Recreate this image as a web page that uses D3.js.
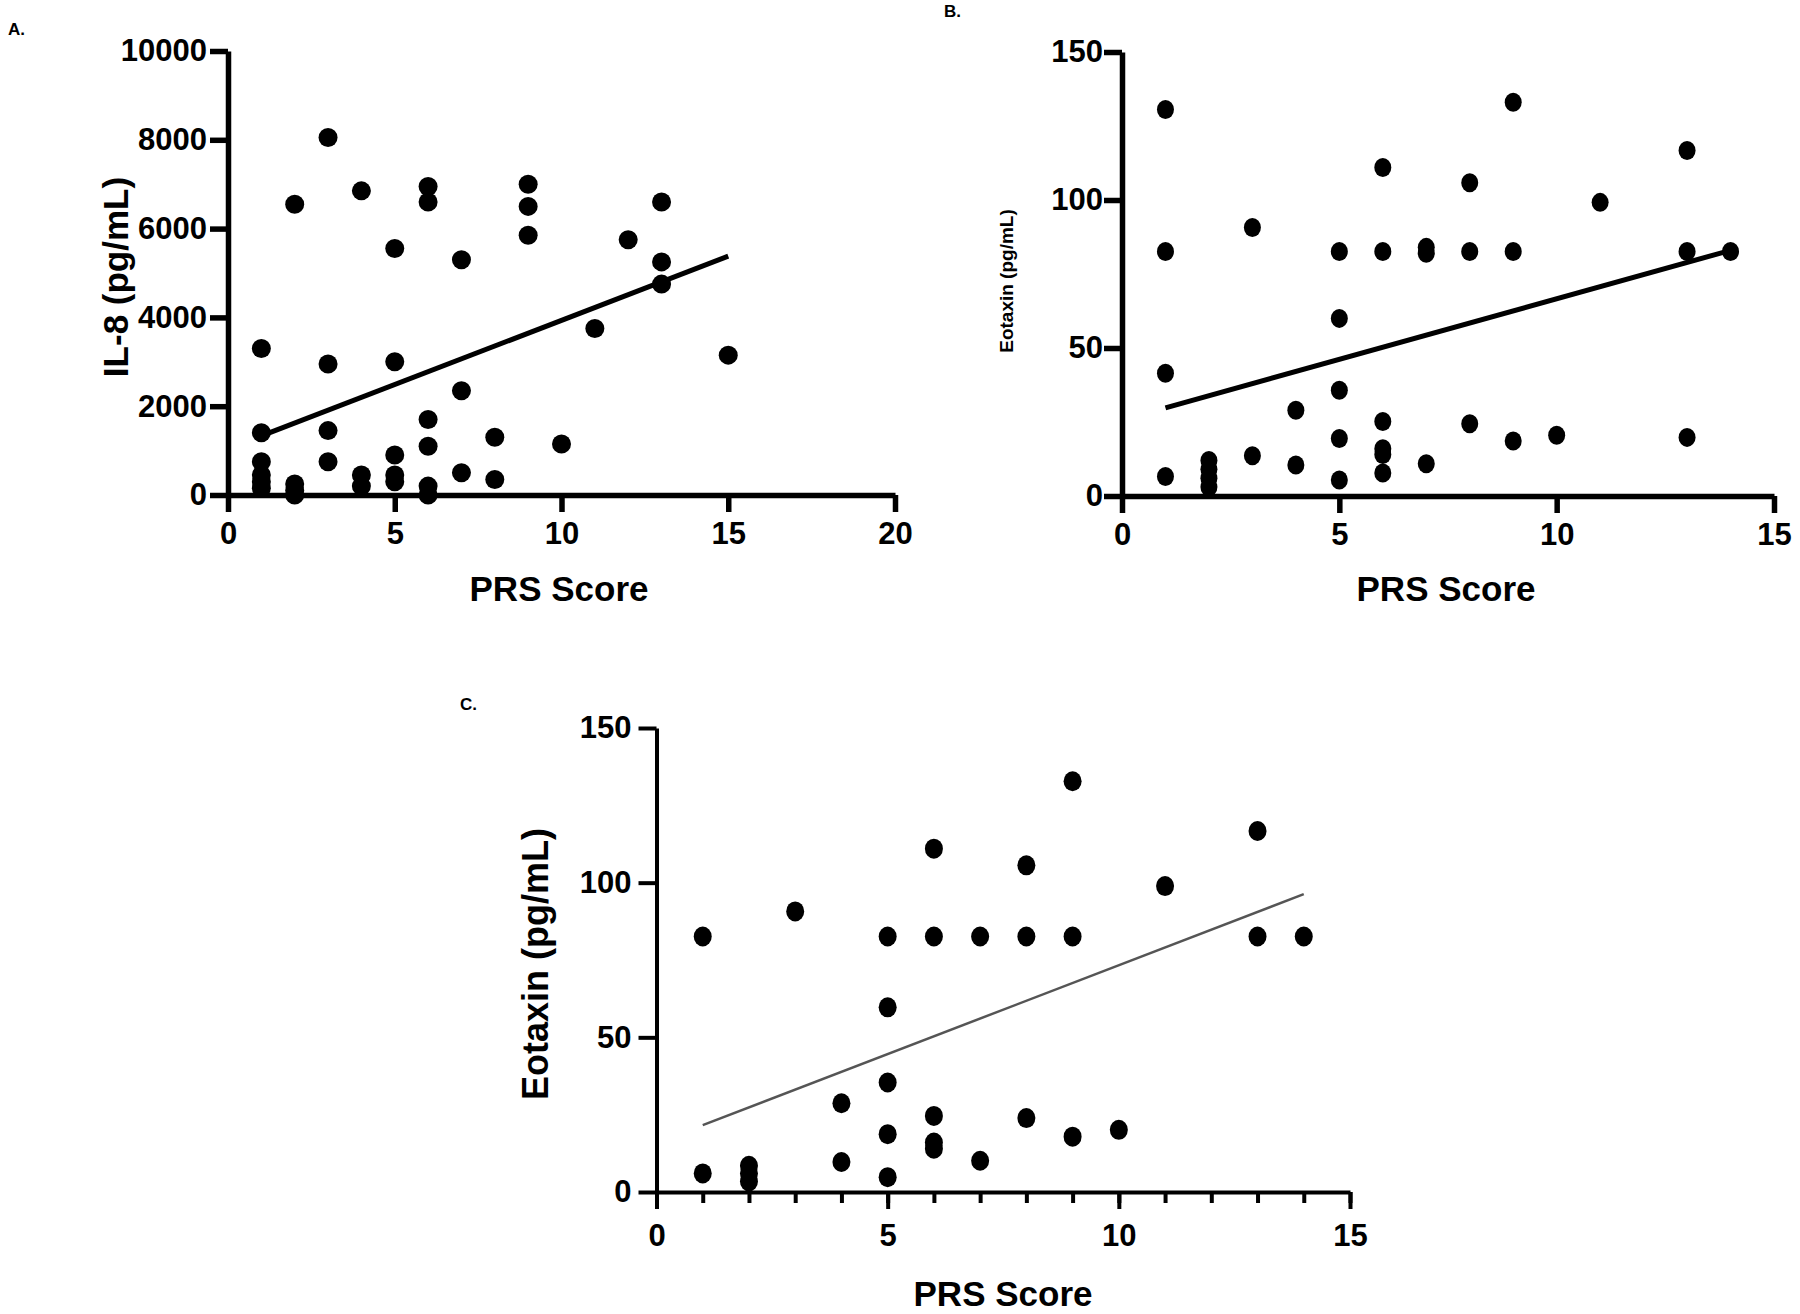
<!DOCTYPE html>
<html>
<head>
<meta charset="utf-8">
<script src="https://cdn.jsdelivr.net/npm/d3@7"></script>
<style>
    body { margin: 0; background: #fff; }
    svg { display: block; font-family: "Liberation Sans", Arial, sans-serif; }
    .tick text { font-weight: bold; }
</style>
</head>
<body>
<svg id="fig" width="1800" height="1314"></svg>
<script>
// Panel A: IL-8 vs PRS score
const prsA = [1,1,1,1,1,1, 2,2,2,2, 3,3,3,3, 4,4,4, 5,5,5,5,5, 6,6,6,6,6,6, 7,7,7, 8,8, 9,9,9, 10, 11, 12, 13,13,13, 15];
const il8A = [3300,1400,750,450,300,150, 6550,250,100,0, 8050,2950,1450,750, 6850,450,200,
    5550,3000,900,450,300, 6950,6600,1700,1100,200,0, 5300,2350,500, 1300,350,
    7000,6500,5850, 1150, 3750, 5750, 6600,5250,4750, 3150];
const fitAx = [1, 15];
const fitAy = [1330, 5380];
const ticksAx = [0, 5, 10, 15, 20];
const ticksAy = [0, 2000, 4000, 6000, 8000, 10000];

// Panel B: Eotaxin vs PRS score
const prsB = [1,1,1,1, 2,2,2,2, 3,3, 4,4, 5,5,5,5,5, 6,6,6,6,6,6, 7,7,7, 8,8,8, 9,9,9, 10, 11, 13,13,13, 14];
const eotaxinB = [130.6,82.6,41.5,6.6, 12,9,6,3, 90.7,13.6, 29,10.5, 82.6,60,35.7,19.4,5.4,
    111,82.6,25.2,16,14,7.8, 84,82,10.9, 105.8,82.6,24.4, 133,82.6,18.6, 20.5, 99.2,
    116.7,82.6,19.8, 82.6];
const fitBx = [1, 14];
const fitBy = [29.8, 83];

// Panel C: Eotaxin vs PRS score (subset)
const prsC = [1,1, 2,2,2, 3, 4,4, 5,5,5,5,5, 6,6,6,6,6, 7,7, 8,8,8, 9,9,9, 10, 11, 13,13, 14];
const eotaxinC = [82.6,6, 8.5,6,3.4, 90.7, 28.7,9.7, 82.6,59.7,35.4,18.7,4.8,
    111,82.6,24.6,16,14, 82.6,10.1, 105.6,82.6,23.9, 132.8,82.6,17.9, 20.1, 98.9,
    116.7,82.6, 82.6];
const fitCx = [1, 14];
const fitCy = [21.6, 96.3];

const ticksEx = [0, 5, 10, 15];
const ticksEy = [0, 50, 100, 150];
const minorCx = d3.range(0, 16);

class ScatterPanel {
    constructor(svg, cfg) {
        this.cfg = cfg;
        this.g = svg.append('g');

        this.xScale = d3.scaleLinear()
            .domain(cfg.xDomain)
            .range(cfg.xRange);
        this.yScale = d3.scaleLinear()
            .domain(cfg.yDomain)
            .range(cfg.yRange);

        this.drawChart();
    }

    drawChart() {
        this.drawAxis();
        this.drawFit();
        this.drawCircles();
        this.drawLabels();
    }

    drawAxis() {
        const c = this.cfg;
        const y0 = c.yRange[0];
        const x0 = c.xRange[0];

        if (c.minorX) {
            let minor = d3.axisBottom(this.xScale)
                .tickValues(c.minorX)
                .tickSize(11)
                .tickSizeOuter(0)
                .tickFormat('');
            this.g.append('g')
                .attr('transform', `translate(0, ${y0})`)
                .call(minor)
                .call(a => a.select('.domain').remove())
                .selectAll('line').attr('stroke', '#000').attr('stroke-width', c.stroke);
        }

        // xAxis
        let xAxis = d3.axisBottom(this.xScale)
            .tickValues(c.xTicks)
            .tickFormat(d3.format('d'))
            .tickSize(17)
            .tickSizeOuter(0)
            .tickPadding(c.xPad);
        let gx = this.g.append('g')
            .attr('transform', `translate(0, ${y0})`)
            .call(xAxis);

        // yAxis
        let yAxis = d3.axisLeft(this.yScale)
            .tickValues(c.yTicks)
            .tickFormat(d3.format('d'))
            .tickSize(18)
            .tickSizeOuter(0)
            .tickPadding(c.yPad);
        let gy = this.g.append('g')
            .attr('transform', `translate(${x0}, 0)`)
            .call(yAxis);

        [gx, gy].forEach(a => {
            a.select('.domain').attr('stroke', '#000').attr('stroke-width', c.stroke);
            a.selectAll('.tick line').attr('stroke', '#000').attr('stroke-width', c.stroke);
            a.selectAll('.tick text')
                .attr('fill', '#000')
                .style('font-size', '31px');
        });
    }

    drawFit() {
        const c = this.cfg;
        this.g.append('line')
            .attr('x1', this.xScale(c.fitX[0]))
            .attr('y1', this.yScale(c.fitY[0]))
            .attr('x2', this.xScale(c.fitX[1]))
            .attr('y2', this.yScale(c.fitY[1]))
            .attr('stroke', c.fitColor)
            .attr('stroke-width', c.fitWidth);
    }

    drawCircles() {
        const c = this.cfg;
        this.g.append('g')
            .selectAll('ellipse')
            .data(c.xs.map((x, i) => ({x: x, y: c.ys[i]})))
            .join('ellipse')
            .attr('cx', d => this.xScale(d.x))
            .attr('cy', d => this.yScale(d.y))
            .attr('rx', c.rx)
            .attr('ry', c.ry)
            .attr('fill', '#000');
    }

    drawLabels() {
        const c = this.cfg;
        this.g.append('text')
            .attr('x', c.xTitlePos[0])
            .attr('y', c.xTitlePos[1])
            .attr('text-anchor', 'middle')
            .style('font-size', '35px')
            .style('font-weight', 'bold')
            .text('PRS Score');

        this.g.append('text')
            .attr('transform', `translate(${c.yTitlePos[0]}, ${c.yTitlePos[1]}) rotate(-90)`)
            .attr('text-anchor', 'middle')
            .style('font-size', c.yTitleSize + 'px')
            .style('font-weight', 'bold')
            .text(c.yTitle);

        this.g.append('text')
            .attr('x', c.panelPos[0])
            .attr('y', c.panelPos[1])
            .style('font-size', '17px')
            .style('font-weight', 'bold')
            .text(c.panel);
    }
}

const svg = d3.select('#fig');

new ScatterPanel(svg, {
    xs: prsA, ys: il8A, fitX: fitAx, fitY: fitAy,
    xDomain: [0, 20], xRange: [228, 895],
    yDomain: [0, 10000], yRange: [495, 51],
    xTicks: ticksAx, yTicks: ticksAy,
    xPad: 10, yPad: 3, stroke: 5.5,
    fitColor: '#000', fitWidth: 5,
    rx: 9.5, ry: 9.5,
    xTitlePos: [559, 601], yTitlePos: [128, 277], yTitle: 'IL-8 (pg/mL)', yTitleSize: 35,
    panelPos: [8, 35], panel: 'A.'
});

new ScatterPanel(svg, {
    xs: prsB, ys: eotaxinB, fitX: fitBx, fitY: fitBy,
    xDomain: [0, 15], xRange: [1122, 1774],
    yDomain: [0, 150], yRange: [496, 52],
    xTicks: ticksEx, yTicks: ticksEy,
    xPad: 10, yPad: 1, stroke: 5.5,
    fitColor: '#000', fitWidth: 5,
    rx: 8.5, ry: 9.5,
    xTitlePos: [1446, 601], yTitlePos: [1013, 281], yTitle: 'Eotaxin (pg/mL)', yTitleSize: 19,
    panelPos: [944, 17], panel: 'B.'
});

new ScatterPanel(svg, {
    xs: prsC, ys: eotaxinC, fitX: fitCx, fitY: fitCy,
    xDomain: [0, 15], xRange: [656.5, 1350],
    yDomain: [0, 150], yRange: [1192, 728],
    xTicks: ticksEx, yTicks: ticksEy, minorX: minorCx,
    xPad: 15, yPad: 7, stroke: 4,
    fitColor: '#555', fitWidth: 2.5,
    rx: 9, ry: 10,
    xTitlePos: [1003, 1306], yTitlePos: [548, 964], yTitle: 'Eotaxin (pg/mL)', yTitleSize: 36,
    panelPos: [460, 710], panel: 'C.'
});
</script>
</body>
</html>
